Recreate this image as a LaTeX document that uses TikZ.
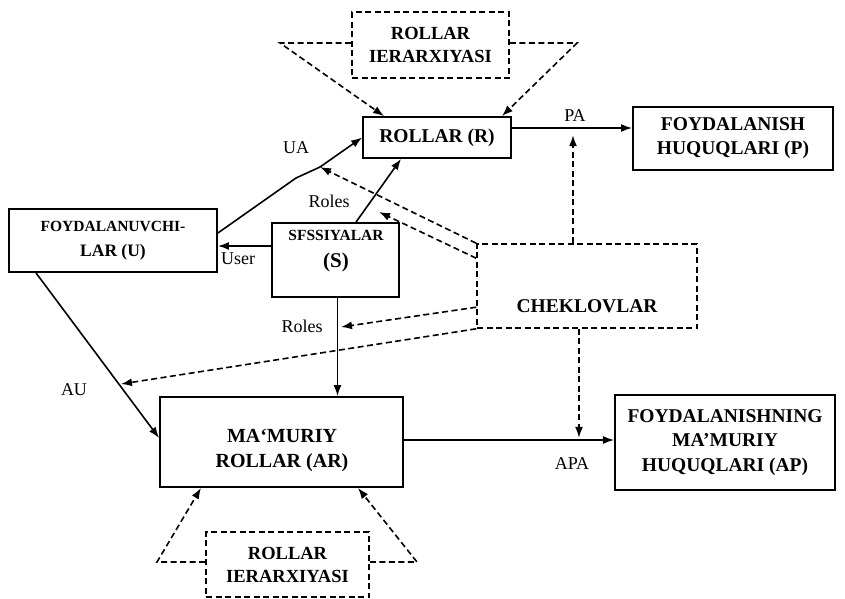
\documentclass[tikz,border=0pt]{standalone}
\usepackage{fontspec}
\setmainfont{Liberation Serif}
\usetikzlibrary{arrows.meta}
\begin{document}
\begin{tikzpicture}[x=1pt,y=-1pt,
  solidbox/.style={draw, line width=1.8pt, inner sep=0pt, align=center},
  dashbox/.style={draw, line width=1.6pt, dash pattern=on 6pt off 3.5pt, inner sep=0pt, align=center},
  boxtext/.style={inner sep=0pt, align=center},
  bigbold/.style={font=\bfseries\fontsize{19.5}{24}\selectfont},
  hierfont/.style={font=\bfseries\fontsize{18.5}{23}\selectfont},
  lbl/.style={inner sep=0pt, font=\fontsize{18}{20}\selectfont},
  flow/.style={line width=1.6pt, -{Latex[length=11pt,width=8pt]}},
  cons/.style={line width=1.6pt, dash pattern=on 6pt off 3.5pt, -{Latex[length=11pt,width=8pt]}},
]
\useasboundingbox (0,0) rectangle (845,598);

% ---- boxes ----
\node[dashbox, hierfont, minimum width=157pt, minimum height=66pt] (hierT) at (430.5,45) {ROLLAR\\IERARXIYASI};
\node[solidbox, bigbold, minimum width=148pt, minimum height=41pt] (r) at (437,137.5) {ROLLAR (R)};
\node[solidbox, bigbold, minimum width=200pt, minimum height=63pt] (p) at (733,138.5) {FOYDALANISH\\HUQUQLARI (P)};
\node[solidbox, font=\bfseries\fontsize{15.5}{25}\selectfont, minimum width=208pt, minimum height=63pt] (u) at (113,240.5)
  {FOYDALANUVCHI-\\\fontsize{17.5}{25}\selectfont LAR (U)};
\node[solidbox, minimum width=127pt, minimum height=74pt] (s) at (335.5,260) {};
\node[boxtext, font=\bfseries\fontsize{15.5}{27}\selectfont] (stxt) at (336,251)
  {SFSSIYALAR\\\fontsize{21}{27}\selectfont (S)};
\node[dashbox, minimum width=220pt, minimum height=84pt] (chek) at (587,286) {};
\node[boxtext, bigbold] (chektxt) at (587,306) {CHEKLOVLAR};
\node[solidbox, minimum width=243pt, minimum height=90pt] (ar) at (281.5,442) {};
\node[boxtext, font=\bfseries\fontsize{20}{25}\selectfont] (artxt) at (282,450.5) {MA‘MURIY\\ROLLAR (AR)};
\node[solidbox, font=\bfseries\fontsize{19.5}{24.5}\selectfont, minimum width=220pt, minimum height=95pt] (ap) at (725,442.5)
  {FOYDALANISHNING\\MA’MURIY\\HUQUQLARI (AP)};
\node[dashbox, hierfont, minimum width=163pt, minimum height=65pt] (hierB) at (287.5,564.5) {ROLLAR\\IERARXIYASI};

% ---- bend and target points ----
\coordinate (htl) at (280,43);
\coordinate (htr) at (577,43);
\coordinate (hbl) at (157,562);
\coordinate (hbr) at (417,562);
\coordinate (uabend) at (296,178);
\coordinate (uahit) at (320,167);
\coordinate (sfree) at (379,212);
\coordinate (rolehit) at (341,327);
\coordinate (auhit) at (121,384);

% ---- role hierarchies ----
\draw[cons] ([yshift=2pt]hierT.west) -- (htl) -- ([xshift=-53pt]r.north);
\draw[cons] ([yshift=2pt]hierT.east) -- (htr) -- ([xshift=65pt]r.north);
\draw[cons] ([yshift=2.5pt]hierB.west) -- (hbl) -- ([xshift=-80.5pt]ar.south);
\draw[cons] ([yshift=2.5pt]hierB.east) -- (hbr) -- ([xshift=76.5pt]ar.south);

% ---- assignments ----
\draw[flow] ([yshift=9.5pt]r.east) -- ([yshift=10.5pt]p.west);
\node[lbl] (palbl) at (575,116) {PA};
\draw[flow] ([yshift=7.5pt]u.east) -- (uabend) -- (uahit) -- (r.west);
\node[lbl] (ualbl) at (296,148) {UA};
\draw[flow] ([yshift=14pt]s.west) -- ([yshift=-5.5pt]u.east);
\node[lbl] (userlbl) at (238,259) {User};
\draw[flow] ([xshift=20.5pt]s.north) -- ([xshift=-36pt]r.south);
\node[lbl] (roles1) at (329,201) {Roles};
\draw[flow] ([xshift=2pt]s.south) -- ([xshift=2pt]s.south |- ar.north);
\node[lbl] (roles2) at (302,326) {Roles};
\draw[flow] ([xshift=-77pt]u.south) -- ([yshift=4pt]ar.west);
\node[lbl] (aulbl) at (74,390) {AU};
\draw[flow] ([yshift=2pt]ar.east) -- ([yshift=2pt]ar.east -| ap.west);
\node[lbl] (apalbl) at (572,464) {APA};

% ---- constraints ----
\draw[cons] ([xshift=-14pt]chek.north) -- ++(0,-108);
\draw[cons] ([xshift=-8pt]chek.south) -- ++(0,109);
\draw[cons] (chek.north west) -- (uahit);
\draw[cons] ([yshift=-15pt]chek.north west) -- (sfree);
\draw[cons] ([yshift=-64pt]chek.north west) -- (rolehit);
\draw[cons] (chek.south west) -- (auhit);
\end{tikzpicture}
\end{document}
